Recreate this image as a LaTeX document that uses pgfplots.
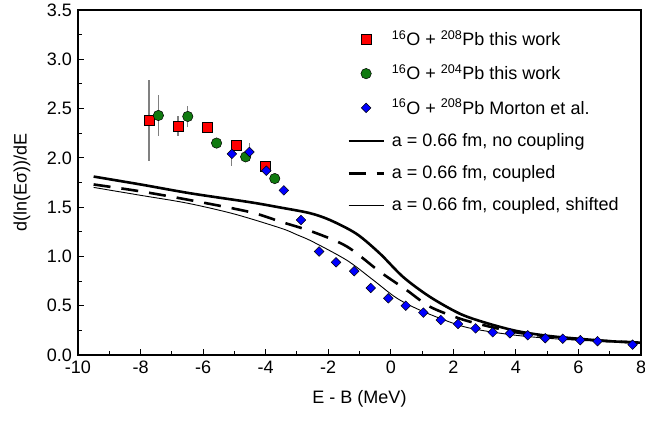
\documentclass[border=0pt]{standalone}
\usepackage{fontspec}
\setmainfont{Liberation Sans}
\usepackage{pgfplots}
\pgfplotsset{compat=1.18}
\definecolor{myred}{RGB}{255,0,0}
\definecolor{mygreen}{RGB}{16,122,16}
\definecolor{myblue}{RGB}{0,0,255}
\begin{document}
\fontsize{18}{21}\selectfont
\begin{tikzpicture}
\begin{axis}[name=ax, scale only axis, width=563pt, height=345pt,
  xmin=-10, xmax=8, ymin=0, ymax=3.5,
  xtick={-10,-8,...,8}, minor x tick num=1,
  ytick={0,0.5,1,1.5,2,2.5,3,3.5}, minor y tick num=1,
  tick align=inside, xtick pos=left, ytick pos=left,
  major tick length=6pt, minor tick length=4pt,
  axis line style={line width=1.1pt}, tick style={line width=0.9pt, black},
  /pgf/number format/assume math mode=true,
  yticklabel style={/pgf/number format/.cd, fixed, fixed zerofill, precision=1},
  ticklabel style={font=\fontsize{18}{21}\selectfont},
  xlabel={E - B (MeV)}, ylabel={d(ln(Eσ))/dE},
  label style={font=\fontsize{18}{21}\selectfont},
  xlabel style={at={(axis description cs:0.5,-0.1275)}, anchor=center},
  ylabel style={at={(axis description cs:-0.0995,0.5)}, anchor=center},
  legend style={at={(rel axis cs:0.478,0.947)}, anchor=north west, draw=none, fill=none,
    font=\fontsize{18}{21}\selectfont, row sep=12.5pt, column sep=5pt, inner sep=0pt},
  legend cell align=left,
  legend image code/.code={\draw[mark repeat=2,mark phase=2] plot coordinates {(0pt,0pt) (17.5pt,0pt) (35pt,0pt)};},
]
% calculations
\addplot[black, line width=2.6pt, smooth, forget plot] coordinates {
  (-9.5,1.81) (-8,1.73) (-6.4,1.64) (-4.5,1.55) (-3.6,1.50) (-2.6,1.44)
  (-1.95,1.37) (-1.1,1.23) (-0.35,1.03) (0.4,0.79) (1.25,0.59) (2.2,0.42)
  (3,0.33) (4,0.245) (5,0.195) (6,0.165) (7,0.14) (8,0.125)};
\addplot[black, line width=2.6pt, dash pattern=on 17pt off 11pt, smooth, forget plot] coordinates {
  (-9.5,1.73) (-8,1.66) (-6.4,1.57) (-4.5,1.45) (-3.5,1.35) (-2.5,1.25)
  (-1.4,1.10) (-0.35,0.845) (0.5,0.66) (1.25,0.49) (2.2,0.37) (3,0.30)
  (4,0.23) (5,0.19) (6,0.16) (7,0.14) (8,0.125)};
\addplot[black, line width=0.9pt, smooth, forget plot] coordinates {
  (-9.5,1.70) (-8,1.62) (-6.5,1.54) (-5,1.43) (-3.5,1.285) (-3.0,1.22)
  (-2.5,1.15) (-1.4,0.96) (-0.56,0.76) (0.2,0.575) (1.04,0.44) (2.2,0.30)
  (3,0.245) (4,0.20) (5,0.17) (6,0.15) (7,0.135) (8,0.12)};
% data
\addplot[only marks, mark=square*, mark size=5pt, mark options={fill=myred, draw=black, line width=0.5pt},
  error bars/.cd, y dir=both, y explicit, error mark=none,
  error bar style={gray, line width=1.2pt}]
  table[x=x, y=y, y error=e] {
  x y e
  -7.73 2.38 0.41
  -6.80 2.32 0.10
  -5.87 2.31 0.03
  -4.94 2.13 0
  -4.01 1.91 0
};
\addlegendentry{\textsuperscript{16}O + \textsuperscript{208}Pb this work}
\addplot[only marks, mark=*, mark size=5.2pt, mark options={fill=mygreen, draw=black, line width=0.5pt},
  error bars/.cd, y dir=both, y explicit, error mark=none,
  error bar style={gray, line width=1.2pt}]
  table[x=x, y=y, y error=e] {
  x y e
  -7.43 2.43 0.21
  -6.49 2.42 0.11
  -5.57 2.15 0
  -4.64 2.01 0
  -3.71 1.79 0
};
\addlegendentry{\textsuperscript{16}O + \textsuperscript{204}Pb this work}
\addplot[only marks, mark=square*, mark size=3.4pt, mark options={rotate=45, fill=myblue, draw=black, line width=0.5pt},
  error bars/.cd, y dir=both, y explicit, error mark=none,
  error bar style={gray, line width=1.2pt}]
  table[x=x, y=y, y error=e] {
  x y e
  -5.08 2.04 0.12
  -4.52 2.06 0.09
  -3.98 1.87 0
  -3.42 1.67 0
  -2.87 1.37 0
  -2.29 1.05 0
  -1.75 0.94 0
  -1.17 0.85 0
  -0.64 0.68 0
  -0.08 0.575 0
  0.48 0.50 0
  1.04 0.43 0
  1.60 0.355 0
  2.15 0.315 0
  2.71 0.27 0
  3.26 0.23 0
  3.81 0.22 0
  4.38 0.20 0
  4.94 0.17 0
  5.50 0.165 0
  6.06 0.15 0
  6.61 0.14 0
  7.73 0.105 0
};
\addlegendentry{\textsuperscript{16}O + \textsuperscript{208}Pb Morton et al.}
\addlegendimage{black, line width=2.6pt}
\addlegendentry{a = 0.66 fm, no coupling}
\addlegendimage{black, line width=2.6pt, dash pattern=on 17pt off 11pt}
\addlegendentry{a = 0.66 fm, coupled}
\addlegendimage{black, line width=0.9pt}
\addlegendentry{a = 0.66 fm, coupled, shifted}
\end{axis}
\pgfresetboundingbox
\path[use as bounding box] ([shift={(-78pt,-66pt)}]ax.south west) rectangle ([shift={(4pt,10pt)}]ax.north east);
\end{tikzpicture}
\end{document}
